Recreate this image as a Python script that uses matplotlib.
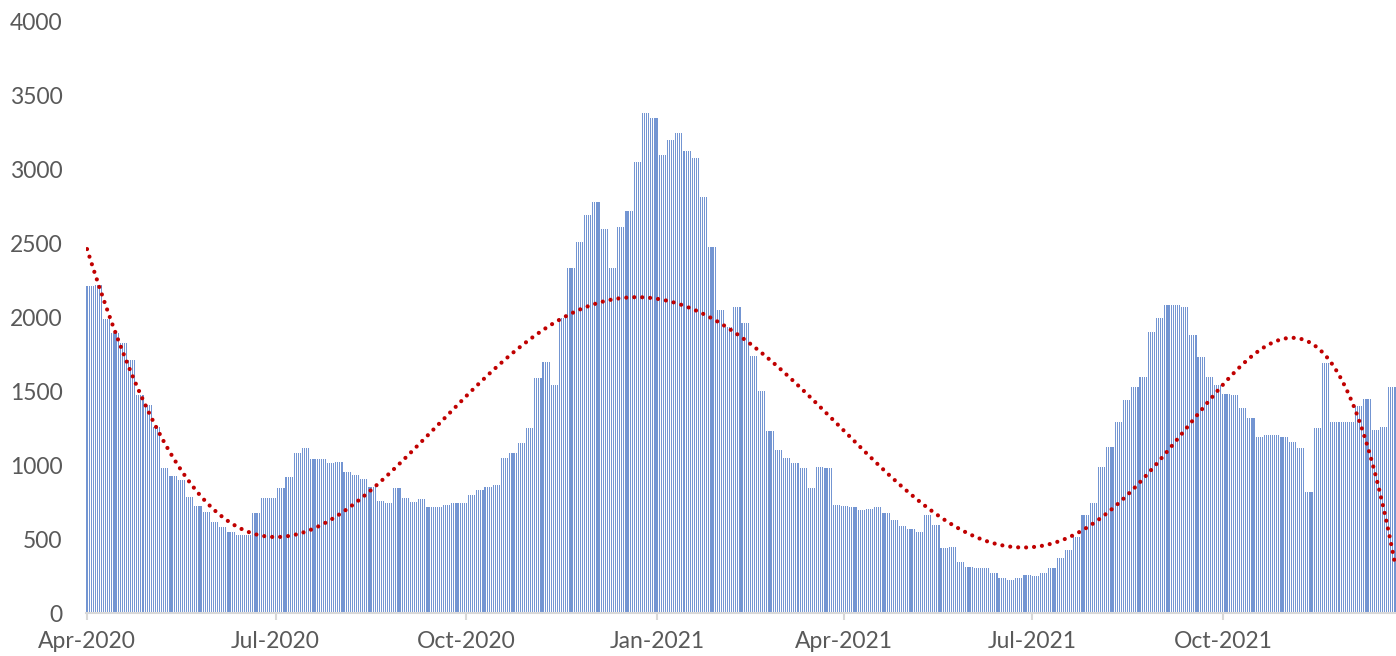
import numpy as np
import pandas as pd
import matplotlib.pyplot as plt
import matplotlib.dates as mdates

# values, one per 4-day block starting 1 Apr 2020
block_days = 4
block_values = [
    2210, 2220, 1990, 1895, 1828, 1713, 1476, 1408, 1261, 982,
    927, 900, 787, 724, 686, 618, 584, 550, 528, 528,
    677, 778, 778, 846, 923, 1081, 1115, 1040, 1040, 1018,
    1025, 957, 934, 905, 855, 760, 743, 844, 776, 753,
    770, 720, 720, 731, 743, 747, 799, 833, 855, 867,
    1047, 1081, 1149, 1250, 1589, 1700, 1544, 2000, 2334, 2514,
    2694, 2780, 2600, 2334, 2615, 2722, 3050, 3383, 3349, 3100,
    3200, 3248, 3124, 3078, 2818, 2480, 2051, 1938, 2074, 1961,
    1738, 1500, 1231, 1103, 1047, 1013, 980, 844, 990, 980,
    731, 724, 715, 697, 702, 720, 675, 630, 589, 567,
    550, 663, 596, 438, 450, 347, 313, 302, 302, 269,
    235, 223, 235, 257, 250, 273, 302, 370, 427, 517,
    663, 742, 991, 1126, 1295, 1442, 1530, 1600, 1904, 1995,
    2085, 2085, 2074, 1880, 1736, 1600, 1543, 1483, 1473, 1386,
    1318, 1194, 1205, 1205, 1194, 1160, 1120, 821, 1250, 1690,
    1290, 1296, 1296, 1400, 1450, 1240, 1260, 1530,
]
start_date = '2020-04-01'
tick_dates = ['2020-04-01', '2020-07-01', '2020-10-01', '2021-01-01',
              '2021-04-01', '2021-07-01', '2021-10-01']
y_ticks = np.arange(0, 4001, 500)

values = np.repeat(block_values, block_days)
dates = pd.date_range(start_date, periods=len(values), freq='D')

# Excel-style polynomial trendline (order 6)
t = np.arange(len(values))
coef = np.polyfit(t, values, 6)
trend = np.polyval(coef, t)

fig = plt.figure(figsize=(13.96, 6.56), dpi=100)
ax = fig.add_axes([86 / 1396, 43 / 656, 1310 / 1396, 591 / 656])

ax.bar(dates, values, width=0.55, color='#4472C4', alpha=0.75,
       linewidth=0)
ax.plot(dates, trend, color='#C00000', linewidth=3,
        linestyle=(0, (0.01, 1.9)), dash_capstyle='round')

ax.set_ylim(0, 4000)
ax.set_yticks(y_ticks)
ax.set_xlim(dates[0] - pd.Timedelta(hours=12),
            dates[-1] + pd.Timedelta(hours=12))
ax.set_xticks(pd.to_datetime(tick_dates))
ax.xaxis.set_major_formatter(mdates.DateFormatter('%b-%Y'))

for side in ['top', 'right', 'left']:
    ax.spines[side].set_visible(False)
ax.spines['bottom'].set_color('#D9D9D9')
ax.spines['bottom'].set_linewidth(1.5)

ax.tick_params(axis='y', length=0, pad=17, labelsize=16.5,
               labelcolor='#595959')
ax.tick_params(axis='x', length=5, width=1.5, color='#D9D9D9', pad=8,
               labelsize=16.5, labelcolor='#595959')
for lab in ax.get_xticklabels() + ax.get_yticklabels():
    lab.set_family('Lato')

fig.savefig('out.png', dpi=100)
